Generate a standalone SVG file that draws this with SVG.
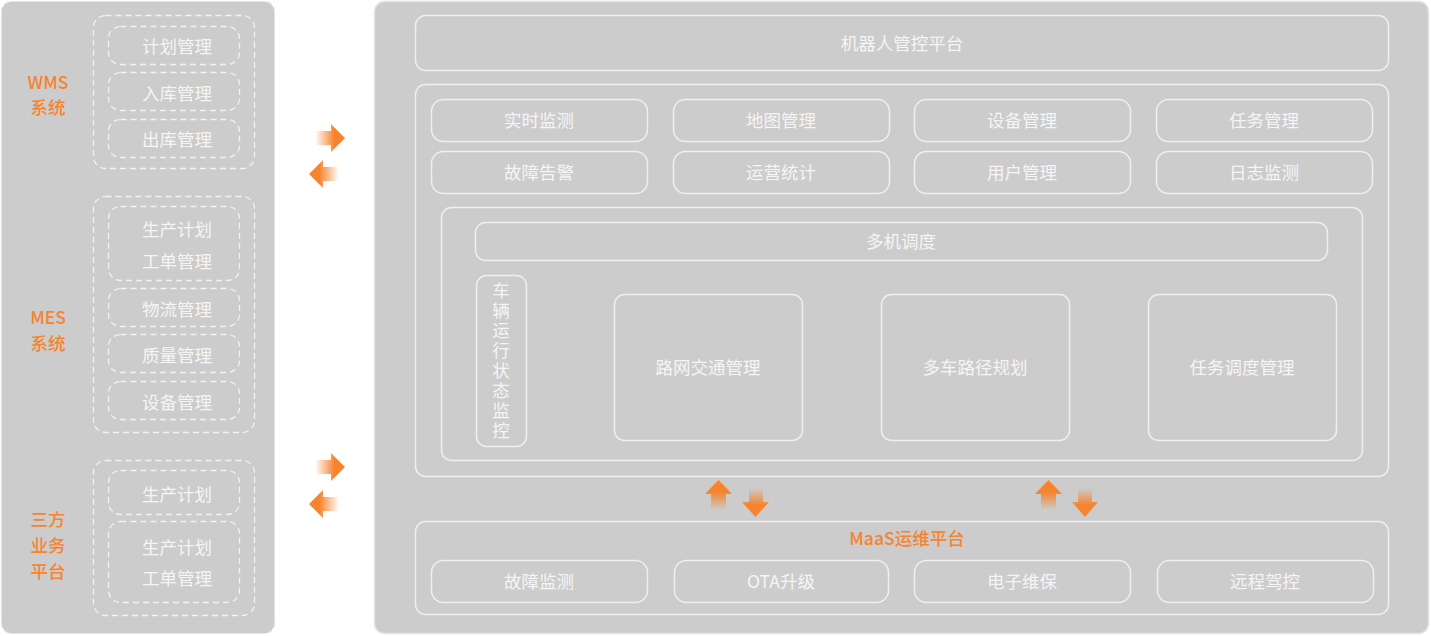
<svg xmlns="http://www.w3.org/2000/svg" width="1431" height="636" viewBox="0 0 1431 636">
<style>
.panel{fill:#cccccc;}
.box{fill:none;stroke:#efefef;stroke-width:1.5;}
.dash{fill:none;stroke:#f2f2f2;stroke-width:1.3;stroke-dasharray:6 4;}
.t{font-family:"Noto Sans CJK SC","Noto Sans",sans-serif;font-size:17.5px;fill:#f5f5f5;text-anchor:middle;dominant-baseline:central;}
.o{font-family:"Noto Sans CJK SC","Noto Sans",sans-serif;font-size:17.5px;fill:#f7832c;text-anchor:middle;dominant-baseline:central;font-weight:500;}
.v{writing-mode:vertical-rl;text-orientation:upright;letter-spacing:2.5px;}
</style>
<defs>
<linearGradient id="gR" x1="0" y1="0" x2="1" y2="0"><stop offset="0" stop-color="#f7832c" stop-opacity="0"/><stop offset="0.65" stop-color="#f7832c" stop-opacity="1"/></linearGradient>
<linearGradient id="gL" x1="1" y1="0" x2="0" y2="0"><stop offset="0" stop-color="#f7832c" stop-opacity="0"/><stop offset="0.65" stop-color="#f7832c" stop-opacity="1"/></linearGradient>
<linearGradient id="gU" x1="0" y1="1" x2="0" y2="0"><stop offset="0" stop-color="#f7832c" stop-opacity="0"/><stop offset="0.6" stop-color="#f7832c" stop-opacity="1"/></linearGradient>
<linearGradient id="gD" x1="0" y1="0" x2="0" y2="1"><stop offset="0" stop-color="#f7832c" stop-opacity="0"/><stop offset="0.6" stop-color="#f7832c" stop-opacity="1"/></linearGradient>
</defs>
<rect width="1431" height="636" fill="#ffffff"/>

<!-- Left panel -->
<g id="left-panel">
<rect class="panel" x="1.5" y="1.5" width="273" height="632" rx="10" stroke="#e2e2e2" stroke-width="1.2" stroke-dasharray="5 3"/>
</g>
<g id="wms">
<text class="o" x="48" y="81.5">WMS</text>
<text class="o" x="48" y="106.5">系统</text>
<rect class="dash" x="93.5" y="15.5" width="161" height="153" rx="12"/>
</g>
<g id="wms-plan"><rect class="dash" x="108.5" y="26.5" width="131" height="38" rx="12"/><text class="t" x="177" y="45.5">计划管理</text></g>
<g id="wms-in"><rect class="dash" x="108.5" y="72.5" width="131" height="38" rx="12"/><text class="t" x="177" y="92.5">入库管理</text></g>
<g id="wms-out"><rect class="dash" x="108.5" y="119.5" width="131" height="38" rx="12"/><text class="t" x="177" y="138.5">出库管理</text></g>

<g id="mes">
<text class="o" x="48" y="316.5">MES</text>
<text class="o" x="48" y="342.5">系统</text>
<rect class="dash" x="93.5" y="196.5" width="161" height="236" rx="12"/>
</g>
<g id="mes-plan"><rect class="dash" x="108.5" y="206.5" width="131" height="74" rx="12"/><text class="t" x="177" y="228.5">生产计划</text><text class="t" x="177" y="260.5">工单管理</text></g>
<g id="mes-logistics"><rect class="dash" x="108.5" y="288.5" width="131" height="38" rx="12"/><text class="t" x="177" y="308.5">物流管理</text></g>
<g id="mes-quality"><rect class="dash" x="108.5" y="334.5" width="131" height="38" rx="12"/><text class="t" x="177" y="354.5">质量管理</text></g>
<g id="mes-device"><rect class="dash" x="108.5" y="381.5" width="131" height="38" rx="12"/><text class="t" x="177" y="401.5">设备管理</text></g>

<g id="third">
<text class="o" x="48" y="518.5">三方</text>
<text class="o" x="48" y="544.5">业务</text>
<text class="o" x="48" y="570.5">平台</text>
<rect class="dash" x="93.5" y="460.5" width="161" height="155" rx="12"/>
</g>
<g id="third-plan"><rect class="dash" x="108.5" y="470.5" width="131" height="44" rx="12"/><text class="t" x="177" y="493.5">生产计划</text></g>
<g id="third-order"><rect class="dash" x="108.5" y="521.5" width="131" height="81" rx="12"/><text class="t" x="177" y="546.5">生产计划</text><text class="t" x="177" y="577.5">工单管理</text></g>

<!-- Right panel -->
<g id="right-panel">
<rect class="panel" x="374.5" y="1.5" width="1054" height="632" rx="10" stroke="#e3e3e3" stroke-width="1.5"/>
</g>
<g id="robot-platform"><rect class="box" x="415.5" y="15.5" width="973" height="55" rx="10"/><text class="t" x="902" y="42.5">机器人管控平台</text></g>
<g id="functions"><rect class="box" x="415.5" y="84.5" width="973" height="392" rx="10"/></g>
<g id="f-monitor"><rect class="box" x="431.5" y="99.5" width="216" height="42" rx="12"/><text class="t" x="539" y="119.5">实时监测</text></g>
<g id="f-map"><rect class="box" x="673.5" y="99.5" width="216" height="42" rx="12"/><text class="t" x="781" y="119.5">地图管理</text></g>
<g id="f-device"><rect class="box" x="914.5" y="99.5" width="216" height="42" rx="12"/><text class="t" x="1022" y="119.5">设备管理</text></g>
<g id="f-task"><rect class="box" x="1156.5" y="99.5" width="216" height="42" rx="12"/><text class="t" x="1264" y="119.5">任务管理</text></g>
<g id="f-alarm"><rect class="box" x="431.5" y="151.5" width="216" height="42" rx="12"/><text class="t" x="539" y="171.5">故障告警</text></g>
<g id="f-stats"><rect class="box" x="673.5" y="151.5" width="216" height="42" rx="12"/><text class="t" x="781" y="171.5">运营统计</text></g>
<g id="f-user"><rect class="box" x="914.5" y="151.5" width="216" height="42" rx="12"/><text class="t" x="1022" y="171.5">用户管理</text></g>
<g id="f-log"><rect class="box" x="1156.5" y="151.5" width="216" height="42" rx="12"/><text class="t" x="1264" y="171.5">日志监测</text></g>

<g id="dispatch-area"><rect class="box" x="441.5" y="207.5" width="921" height="253" rx="10"/></g>
<g id="multi-dispatch"><rect class="box" x="475.5" y="222.5" width="852" height="38" rx="10"/><text class="t" x="901" y="240.5">多机调度</text></g>
<g id="vehicle-monitor"><rect class="box" x="476.5" y="275.5" width="50" height="171" rx="10"/>
<text class="t v" x="501" y="361.5">车辆运行状态监控</text>
</g>
<g id="traffic"><rect class="box" x="614.5" y="294.5" width="188" height="146" rx="10"/><text class="t" x="708" y="366.5">路网交通管理</text></g>
<g id="path-plan"><rect class="box" x="881.5" y="294.5" width="188" height="146" rx="10"/><text class="t" x="975" y="366.5">多车路径规划</text></g>
<g id="task-dispatch"><rect class="box" x="1148.5" y="294.5" width="188" height="146" rx="10"/><text class="t" x="1242" y="366.5">任务调度管理</text></g>

<g id="maas"><rect class="box" x="415.5" y="521.5" width="973" height="93" rx="10"/><text class="o" x="907" y="537.5">MaaS运维平台</text></g>
<g id="m-fault"><rect class="box" x="431.5" y="560.5" width="216" height="42" rx="12"/><text class="t" x="539" y="580.5">故障监测</text></g>
<g id="m-ota"><rect class="box" x="674.5" y="560.5" width="214" height="42" rx="12"/><text class="t" x="781" y="580.5">OTA升级</text></g>
<g id="m-maint"><rect class="box" x="914.5" y="560.5" width="216" height="42" rx="12"/><text class="t" x="1022" y="580.5">电子维保</text></g>
<g id="m-remote"><rect class="box" x="1157.5" y="560.5" width="216" height="42" rx="12"/><text class="t" x="1265" y="580.5">远程驾控</text></g>

<g id="connectors">
<polygon fill="url(#gR)" points="315,131 331,131 331,124 345,138 331,152 331,145 315,145"/>
<polygon fill="url(#gL)" points="339,167 323,167 323,160 309,174 323,188 323,181 339,181"/>
<polygon fill="url(#gR)" points="315,460 331,460 331,453 345,467 331,481 331,474 315,474"/>
<polygon fill="url(#gL)" points="339,497 323,497 323,490 309,504 323,518 323,511 339,511"/>
<polygon fill="url(#gU)" points="711,510 711,494 705,494 718.5,480 732,494 726,494 726,510"/>
<polygon fill="url(#gD)" points="749,488 763,488 763,502 769,502 755.5,517 742,502 749,502"/>
<polygon fill="url(#gU)" points="1041,510 1041,494 1035,494 1048.5,480 1062,494 1056,494 1056,510"/>
<polygon fill="url(#gD)" points="1078,488 1092,488 1092,502 1098,502 1085,517 1072,502 1078,502"/>
</g>
</svg>
